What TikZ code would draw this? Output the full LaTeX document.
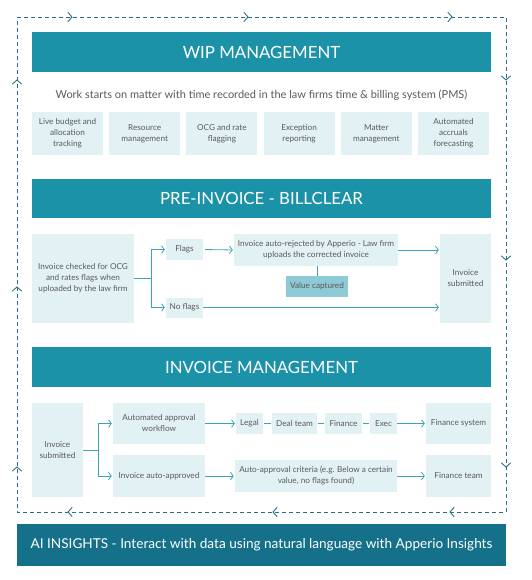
\documentclass[tikz,border=0pt]{standalone}
\usepackage{fontspec}
\setmainfont{Lato}
\usetikzlibrary{arrows.meta}
\definecolor{hdr}{HTML}{1C92A8}
\definecolor{aibg}{HTML}{15708A}
\definecolor{boxbg}{HTML}{E2F1F4}
\definecolor{vcbg}{HTML}{8DCAD6}
\definecolor{dashc}{HTML}{2B6D89}
\definecolor{connc}{HTML}{3BA4B7}
\definecolor{txt}{HTML}{5A5A5A}
\tikzset{
  hdrbox/.style={fill=hdr, text=white, inner sep=0pt, minimum width=459pt, minimum height=40pt, font=\fontsize{16.8}{19}\selectfont},
  lbox/.style={fill=boxbg, text=txt, inner sep=0pt, align=center, font=\fontsize{8.2}{11}\selectfont},
  conn/.style={draw=connc, line width=0.8pt},
  arr/.style={conn, -{Straight Barb[length=2.8pt,width=7.5pt,line width=0.8pt]}, shorten >=1pt},
  chev/.style={draw=dashc, line width=0.9pt, line cap=round, line join=miter}
}
\begin{document}
\begin{tikzpicture}[x=1pt,y=-1pt]
\useasboundingbox (0,0) rectangle (531,580);
% dashed frame
\coordinate (f1) at (17,17);
\coordinate (f2) at (506,17);
\coordinate (f3) at (506,512);
\coordinate (f4) at (17,512);
\draw[dashc, line width=0.9pt, dash pattern=on 4pt off 3pt] (f1) -- (f2) -- (f3) -- (f4) -- cycle;
% chevrons on frame: right-pointing on top
\foreach \x in {72,248,452} \draw[chev] (\x-4,12.5) -- (\x,17) -- (\x-4,21.5);
% down-pointing on right
\foreach \y in {80,260,467} \draw[chev] (501.5,\y-4) -- (506,\y) -- (510.5,\y-4);
% left-pointing on bottom
\foreach \x in {68,273,450} \draw[chev] (\x+4,507.5) -- (\x,512) -- (\x+4,516.5);
% up-pointing on left
\foreach \y in {80,287,467} \draw[chev] (12.5,\y+4) -- (17,\y) -- (21.5,\y+4);

% headers
\node[hdrbox] (wip) at (261.5,52) {WIP MANAGEMENT};
\node[hdrbox, minimum height=39pt] (pre) at (261.5,198.5) {PRE-INVOICE - BILLCLEAR};
\node[hdrbox] (inv) at (261.5,367) {INVOICE MANAGEMENT};
\node[fill=aibg, text=white, inner sep=0pt, minimum width=489pt, minimum height=42pt, font=\fontsize{13.6}{16}\selectfont] (ai) at (261.5,545) {AI INSIGHTS - Interact with data using natural language with Apperio Insights};

% WIP
\node[text=txt, font=\fontsize{11}{13}\selectfont] (sub) at (261.5,95) {Work starts on matter with time recorded in the law firms time \& billing system (PMS)};
\node[lbox, minimum width=71pt, minimum height=43pt] (w1) at (67.5,133.5) {Live budget and\\allocation\\tracking};
\node[lbox, minimum width=71pt, minimum height=43pt] (w2) at (144.7,133.5) {Resource\\management};
\node[lbox, minimum width=71pt, minimum height=43pt] (w3) at (221.9,133.5) {OCG and rate\\flagging};
\node[lbox, minimum width=71pt, minimum height=43pt] (w4) at (299.1,133.5) {Exception\\reporting};
\node[lbox, minimum width=71pt, minimum height=43pt] (w5) at (376.3,133.5) {Matter\\management};
\node[lbox, minimum width=71pt, minimum height=43pt] (w6) at (453.5,133.5) {Automated\\accruals\\forecasting};

% PRE-INVOICE
\node[lbox, minimum width=102pt, minimum height=89pt] (pl) at (83,278.5) {Invoice checked for OCG\\and rates flags when\\uploaded by the law firm};
\node[lbox, minimum width=37pt, minimum height=21pt] (flags) at (184.5,249.5) {Flags};
\node[lbox, minimum width=37pt, minimum height=20pt] (noflags) at (184.5,307.5) {No flags};
\node[lbox, minimum width=164pt, minimum height=32pt] (rej) at (316,250) {Invoice auto-rejected by Apperio - Law firm\\uploads the corrected invoice};
\node[lbox, fill=vcbg, minimum width=62pt, minimum height=21pt] (vc) at (317,286.5) {Value captured};
\node[lbox, minimum width=51pt, minimum height=89pt] (pis) at (465.5,278.5) {Invoice\\submitted};
\coordinate (b1) at (151,278.5);
\draw[conn] (pl.east) -- (b1);
\draw[arr] (b1) |- (flags.west);
\draw[arr] (b1) |- (noflags.west);
\draw[arr, shorten <=2pt] (flags.east) -- (rej.west);
\draw[arr] (rej.east) -- (rej.east -| pis.west);
\draw[arr] (noflags.east) -- (noflags.east -| pis.west);
\draw[conn] (rej.south -| vc.north) -- (vc.north);

% INVOICE MANAGEMENT
\node[lbox, minimum width=51pt, minimum height=94pt] (is) at (57.5,450) {Invoice\\submitted};
\node[lbox, minimum width=92pt, minimum height=41pt] (aaw) at (159,423.5) {Automated approval\\workflow};
\node[lbox, minimum width=92pt, minimum height=42pt] (iaa) at (159,476) {Invoice auto-approved};
\node[lbox, minimum width=27pt, minimum height=21pt] (legal) at (249.5,423.5) {Legal};
\node[lbox, minimum width=45pt, minimum height=21pt] (deal) at (294.5,423.5) {Deal team};
\node[lbox, minimum width=37pt, minimum height=21pt] (fin) at (343.5,423.5) {Finance};
\node[lbox, minimum width=27pt, minimum height=21pt] (exec) at (383.5,423.5) {Exec};
\node[lbox, minimum width=65pt, minimum height=41pt] (fs) at (458.5,423.5) {Finance system};
\node[lbox, minimum width=162pt, minimum height=32pt] (crit) at (316,476) {Auto-approval criteria (e.g. Below a certain\\value, no flags found)};
\node[lbox, minimum width=65pt, minimum height=42pt] (ft) at (458.5,476) {Finance team};
\coordinate (b2) at (98,450);
\draw[conn] (is.east) -- (b2);
\draw[arr] (b2) |- (aaw.west);
\draw[arr] (b2) |- (iaa.west);
\draw[arr] (aaw.east) -- (legal.west);
\draw[conn, shorten <=1pt, shorten >=1pt] (legal.east) -- (deal.west);
\draw[conn, shorten <=1pt, shorten >=1pt] (deal.east) -- (fin.west);
\draw[conn, shorten <=1pt, shorten >=1pt] (fin.east) -- (exec.west);
\draw[arr] (exec.east) -- (fs.west);
\draw[arr] (iaa.east) -- (crit.west);
\draw[arr] (crit.east) -- (ft.west);
\end{tikzpicture}
\end{document}
